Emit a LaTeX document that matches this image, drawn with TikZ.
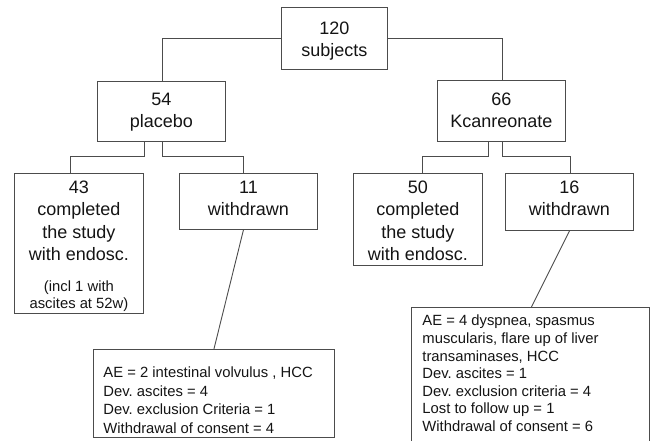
\documentclass[tikz,border=0pt]{standalone}
\usepackage{fontspec}
\setmainfont{Liberation Sans}
\frenchspacing
\begin{document}
\begin{tikzpicture}[x=1pt,y=-1pt,
  line/.style={draw=black!70, line width=0.9pt},
  box/.style={line, inner sep=0pt, anchor=north west, text=black!92},
  big/.style={font=\fontsize{18}{22.2}\selectfont},
  small/.style={font=\fontsize{14.8}{18.47}\selectfont}]
\useasboundingbox (0,0) rectangle (651,440);
% level 0
\node[box, font=\fontsize{18}{22}\selectfont, minimum width=106pt, text height=27.3pt, text depth=34.7pt] (top) at (281,7)
  {\begin{tabular}[t]{@{}c@{}}120\\subjects\end{tabular}};
% level 1
\node[box, font=\fontsize{18}{22.3}\selectfont, minimum width=128pt, text height=24pt, text depth=36pt] (plc) at (97,81)
  {\begin{tabular}[t]{@{}c@{}}54\\placebo\end{tabular}};
\node[box, font=\fontsize{18}{22}\selectfont, minimum width=128pt, text height=25pt, text depth=36pt] (kc) at (437,80)
  {\begin{tabular}[t]{@{}c@{}}66\\Kcanreonate\end{tabular}};
% level 2
\node[box, big, minimum width=129pt, text height=20.3pt, text depth=119.7pt] (b43) at (14,173)
  {\begin{tabular}[t]{@{}c@{}}43\\completed\\the study\\with endosc.\\[8.8pt]{\fontsize{14.8}{17.3}\selectfont (incl 1 with}\\[-4.9pt]{\fontsize{14.8}{17.3}\selectfont ascites at 52w)}\end{tabular}};
\node[box, big, minimum width=138pt, text height=20.3pt, text depth=35.7pt] (b11) at (179,173)
  {\begin{tabular}[t]{@{}c@{}}11\\withdrawn\end{tabular}};
\node[box, big, minimum width=129pt, text height=20.3pt, text depth=71.7pt] (b50) at (353,173)
  {\begin{tabular}[t]{@{}c@{}}50\\completed\\the study\\with endosc.\end{tabular}};
\node[box, big, minimum width=128pt, text height=20.3pt, text depth=36.7pt] (b16) at (505,173)
  {\begin{tabular}[t]{@{}c@{}}16\\withdrawn\end{tabular}};
% level 3
\node[box, small, inner xsep=10pt, text height=28.3pt, text depth=59.4pt] (bL) at (93,349)
  {\begin{tabular}[t]{@{}p{221pt}@{}}AE = 2 intestinal volvulus , HCC\\Dev. ascites = 4\\Dev. exclusion Criteria = 1\\Withdrawal of consent = 4\end{tabular}};
\node[box, font=\fontsize{14.8}{17.6}\selectfont, inner xsep=11pt, text height=18.5pt, text depth=119.5pt] (bR) at (411,307)
  {\begin{tabular}[t]{@{}p{216pt}@{}}AE = 4 dyspnea, spasmus\\muscularis, flare up of liver\\transaminases, HCC\\Dev. ascites = 1\\Dev. exclusion criteria = 4\\Lost to follow up = 1\\Withdrawal of consent = 6\end{tabular}};
% connectors
\draw[line] (top.west) -| ([xshift=1pt]plc.north);
\draw[line] (top.east) -| ([xshift=1pt]kc.north);
\draw[line] ([xshift=-17pt]plc.south) -- ++(0,15) -| ([xshift=-8.5pt]b43.north);
\draw[line] ([xshift=1pt]plc.south) -- ++(0,15) -| ([xshift=-5pt]b11.north);
\draw[line] ([xshift=-13pt]kc.south) -- ++(0,15) -| ([xshift=4.5pt]b50.north);
\draw[line] ([xshift=1pt]kc.south) -- ++(0,15) -| ([xshift=1pt]b16.north);
\draw[line] ([xshift=-5pt]b11.south) -- (bL.north);
\draw[line] (b16.south) -- ([xshift=1pt]bR.north);
\end{tikzpicture}
\end{document}
